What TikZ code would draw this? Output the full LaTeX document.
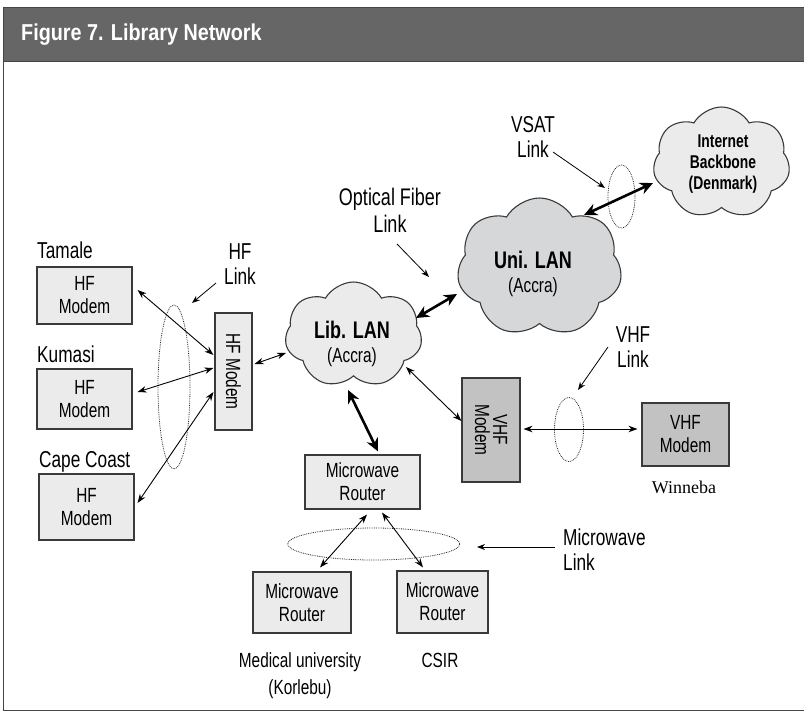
\documentclass[tikz,border=0pt]{standalone}
\usepackage{graphicx}
\usepackage{fontspec}
\setmainfont{Liberation Sans}[FakeStretch=0.75]
\newfontfamily\titlefont{Liberation Sans}[FakeStretch=0.86]
\newfontfamily\placefont{Liberation Serif}
\usetikzlibrary{shapes.symbols,arrows.meta,calc}

\definecolor{hdr}{HTML}{666666}
\definecolor{hdredge}{HTML}{454545}
\definecolor{boxfill}{HTML}{EBEBEB}
\definecolor{darkfill}{HTML}{C2C2C2}
\definecolor{unifill}{HTML}{D6D7D9}
\definecolor{edge}{HTML}{3A3A3A}

\tikzset{
  devbox/.style={draw=edge, line width=1.1pt, fill=boxfill, inner sep=0pt,
    align=center, font=\fontsize{20.5}{23}\selectfont},
  darkbox/.style={devbox, fill=darkfill},
  netcloud/.style={cloud, cloud puffs=7, cloud puff arc=120, cloud ignores aspect,
    draw=edge, line width=1.1pt, fill=boxfill, inner sep=0pt},
  link/.style={line width=0.9pt, {Stealth[length=9pt,width=6.5pt]}-{Stealth[length=9pt,width=6.5pt]}},
  trunk/.style={line width=2.6pt, {Stealth[length=13pt,width=12pt]}-{Stealth[length=13pt,width=12pt]}},
  pointer/.style={line width=0.8pt, -{Stealth[length=8pt,width=6pt]}},
  ring/.style={draw=black!85, line width=0.8pt, densely dotted},
  lbl/.style={font=\fontsize{23}{25}\selectfont, align=center, inner sep=0pt},
  cloudtxt/.style={inner sep=0pt},
}

\begin{document}
\begin{tikzpicture}[x=1pt, y=-1pt]
\useasboundingbox (0,0) rectangle (804,712);

% header bar and frame
\fill[hdr] (3,7) rectangle (804,61);
\draw[hdredge, line width=1pt] (804,7) -- (3,7) -- (3,710) -- (804,710);
\draw[hdredge, line width=0.8pt] (3,61) -- (804,61);
\node[anchor=base west, inner sep=0pt, text=white, font=\titlefont\bfseries\fontsize{23}{25}\selectfont]
  (title) at (21,40) {Figure 7. Library Network};

% HF sites
\node[anchor=base west, inner sep=0pt, font=\fontsize{23}{25}\selectfont] (tamlbl) at (37,258) {Tamale};
\node[anchor=base west, inner sep=0pt, font=\fontsize{23}{25}\selectfont] (kumlbl) at (37,362) {Kumasi};
\node[anchor=base west, inner sep=0pt, font=\fontsize{23}{25}\selectfont] (caplbl) at (39,467) {Cape Coast};
\node[devbox, minimum width=95, minimum height=57] (tam) at (84.5,295.5) {HF\\Modem};
\node[devbox, minimum width=95, minimum height=60] (kum) at (84.5,399) {HF\\Modem};
\node[devbox, minimum width=95, minimum height=66] (cap) at (86.5,507) {HF\\Modem};
\node[devbox, minimum width=37, minimum height=117] (hfm) at (233.5,371.5)
  {\rotatebox{-90}{HF Modem}};

% HF link ring and label
\draw[ring] (174,387) ellipse [x radius=16, y radius=82];
\node[lbl, anchor=north] (hflbl) at (240,243) {HF\\Link};
\coordinate (hftail) at (216,283);
\coordinate (hftip) at (192,303);
\draw[pointer] (hftail) -- (hftip);

% HF links
\draw[link] ([shift={(5,-5.5)}]tam.east) -- ([shift={(-1,-16.5)}]hfm.west);
\draw[link] ([shift={(5,-7)}]kum.east) -- ([shift={(-1,-3.5)}]hfm.west);
\draw[link] ([shift={(3,-4)}]cap.east) -- ([shift={(-1,20.5)}]hfm.west);

% clouds
\node[netcloud, minimum width=137, minimum height=106] (lib) at (353.5,335) {};
\node[netcloud, fill=unifill, minimum width=165, minimum height=139] (uni) at (539.5,267.5) {};
\node[netcloud, minimum width=137, minimum height=112] (inet) at (721.5,163) {};

\node[cloudtxt, anchor=base, font=\bfseries\fontsize{24}{26}\selectfont] (libname) at (352,338) {Lib. LAN};
\node[cloudtxt, anchor=base, font=\fontsize{20.5}{23}\selectfont] (libcity) at (352,362) {(Accra)};
\node[cloudtxt, anchor=base, font=\bfseries\fontsize{24}{26}\selectfont] (uniname) at (533,268) {Uni. LAN};
\node[cloudtxt, anchor=base, font=\fontsize{20.5}{23}\selectfont] (unicity) at (533,292) {(Accra)};
\node[cloudtxt, anchor=north, align=center, font=\bfseries\fontsize{18.5}{21}\selectfont]
  (inettxt) at (723,135) {Internet\\Backbone\\(Denmark)};

% HF modem to library LAN
\draw[link] ([shift={(2,-7.5)}]hfm.east) -- ([shift={(-67.5,18)}]lib.center);

% optical fiber trunk
\draw[trunk] ([shift={(62.5,-17)}]lib.center) -- ([shift={(-82.5,26.5)}]uni.center);
\node[lbl, anchor=north, font=\fontsize{24}{27}\selectfont] (oflbl) at (390,188) {Optical Fiber\\Link};
\coordinate (oftail) at (397,244);
\coordinate (oftip) at (429,277);
\draw[pointer] (oftail) -- (oftip);

% VSAT trunk
\draw[ring] (621.5,196.5) ellipse [x radius=13.5, y radius=31.5];
\draw[trunk] ([shift={(44.5,-52.5)}]uni.center) -- ([shift={(-68.5,20)}]inet.center);
\node[lbl, anchor=north] (vsatlbl) at (533,116) {VSAT\\Link};
\coordinate (vsattail) at (553,152);
\coordinate (vsattip) at (605,188);
\draw[pointer] (vsattail) -- (vsattip);

% VHF part
\node[darkbox, minimum width=58, minimum height=104] (vhfm) at (491,430)
  {\rotatebox{-90}{\parbox{70pt}{\centering\fontsize{20.5}{18}\selectfont VHF\\Modem}}};
\node[darkbox, minimum width=87, minimum height=63] (win) at (685.5,434.5) {VHF\\Modem};
\node[anchor=base, inner sep=0pt, font=\placefont\fontsize{18}{20}\selectfont] (winlbl) at (684,493) {Winneba};
\draw[link] ([shift={(52.5,32)}]lib.center) -- ([shift={(0,-9)}]vhfm.west);
\draw[ring] (569,429.5) ellipse [x radius=14.5, y radius=32];
\draw[link] ([shift={(3,-1)}]vhfm.east) -- ([shift={(-4,-5.5)}]win.west);
\node[lbl, anchor=north] (vhflbl) at (633,326) {VHF\\Link};
\coordinate (vhftail) at (608,347);
\coordinate (vhftip) at (578,390);
\draw[pointer] (vhftail) -- (vhftip);

% microwave part
\node[devbox, minimum width=115, minimum height=54] (mwr) at (362.5,482) {Microwave\\Router};
\node[devbox, minimum width=98, minimum height=61] (med) at (302,602.5) {Microwave\\Router};
\node[devbox, minimum width=91, minimum height=62] (csir) at (442.5,602) {Microwave\\Router};
\draw[trunk] ([shift={(-5.5,55)}]lib.center) -- ([shift={(15.5,-3)}]mwr.north);
\draw[ring] (373.7,544) ellipse [x radius=86, y radius=16];
\draw[link] ([shift={(4.5,5)}]mwr.south) -- ([shift={(18,-4)}]med.north);
\draw[link] ([shift={(19.5,3)}]mwr.south) -- ([shift={(-19.5,-3)}]csir.north);
\node[lbl, anchor=north west, align=left] (mwlbl) at (563,529) {Microwave\\Link};
\coordinate (mwtail) at (555,547);
\coordinate (mwtip) at (477,547);
\draw[pointer] (mwtail) -- (mwtip);

\node[anchor=north, align=center, inner sep=0pt, font=\fontsize{20.5}{27}\selectfont]
  (medlbl) at (300,652) {Medical university\\(Korlebu)};
\node[anchor=base, inner sep=0pt, font=\fontsize{20.5}{22}\selectfont] (csirlbl) at (440,667) {CSIR};
\end{tikzpicture}
\end{document}
